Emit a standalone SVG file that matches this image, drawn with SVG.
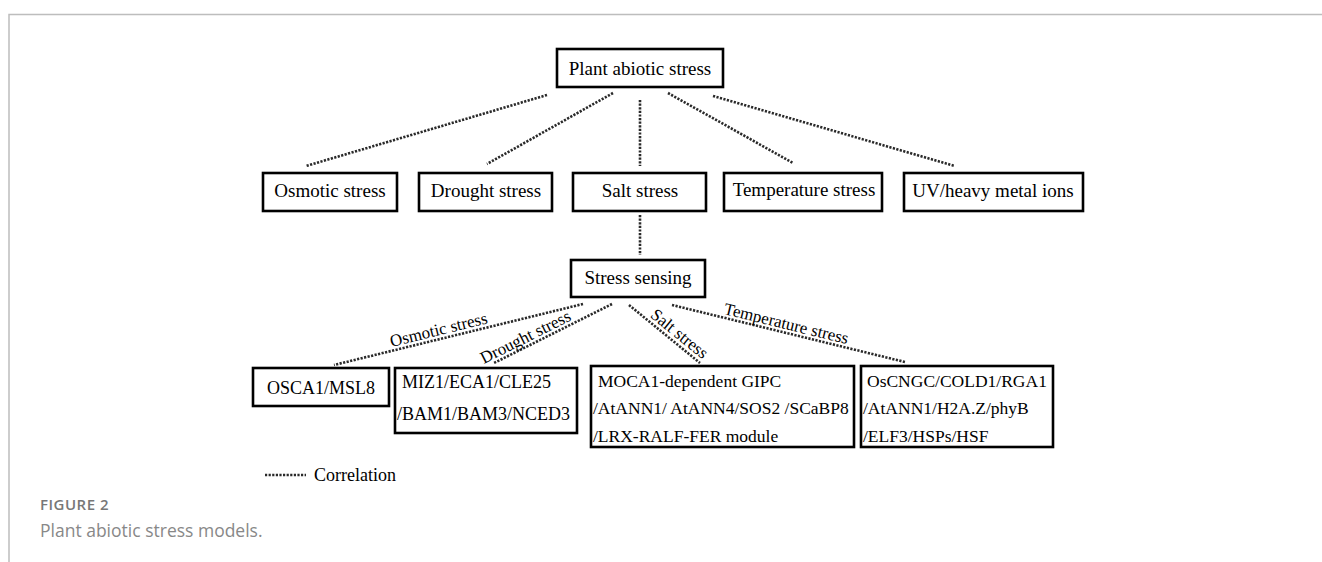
<svg xmlns="http://www.w3.org/2000/svg" width="1322" height="562" viewBox="0 0 1322 562">
<style>
.box{fill:#fff;stroke:#000;stroke-width:2.6}
.t{font-family:"Liberation Serif","Times New Roman",serif;font-size:19px;fill:#000}
.tc{text-anchor:middle}
.s{font-size:18px}
.s2{font-size:17.5px}
.lbl{font-family:"Liberation Serif","Times New Roman",serif;font-size:17px;fill:#000;text-anchor:middle}
.dot{stroke:#2a2a2a;stroke-width:2.6;stroke-dasharray:2.2 1.4;fill:none}
.frame{stroke:#bdbdbd;stroke-width:1.5;fill:none}
.cap1{font-family:"Open Sans","Lato",sans-serif;font-size:15px;font-weight:600;letter-spacing:0.5px;fill:#777}
.cap2{font-family:"Open Sans","Lato",sans-serif;font-size:17.5px;fill:#888}
</style>
<rect width="1322" height="562" fill="#fff"/>
<path class="frame" d="M9,562 V14.5 H1322"/>
<g id="connectors">
<line class="dot" x1="547" y1="95" x2="306" y2="166"/>
<line class="dot" x1="613" y1="93" x2="487" y2="164"/>
<line class="dot" x1="640" y1="100" x2="640" y2="166"/>
<line class="dot" x1="668" y1="93" x2="793" y2="163"/>
<line class="dot" x1="713" y1="96" x2="955" y2="166"/>
<line class="dot" x1="640" y1="215" x2="640" y2="255"/>
<line class="dot" x1="583" y1="304" x2="334" y2="365"/>
<line class="dot" x1="612" y1="304" x2="494" y2="363"/>
<line class="dot" x1="629" y1="305" x2="700" y2="363"/>
<line class="dot" x1="672" y1="305" x2="905" y2="362"/>
<text class="lbl" x="440" y="335" transform="rotate(-13.8 440 335)">Osmotic stress</text>
<text class="lbl" x="528" y="342" transform="rotate(-26.6 528 342)">Drought stress</text>
<text class="lbl" x="676" y="338" transform="rotate(39 676 338)">Salt stress</text>
<text class="lbl" x="785" y="329" transform="rotate(13.7 785 329)">Temperature stress</text>
</g>
<g id="plant-abiotic-stress"><rect class="box" x="557" y="49" width="166" height="38"/><text class="t tc" x="640" y="75">Plant abiotic stress</text></g>
<g id="osmotic-stress"><rect class="box" x="263" y="173" width="134" height="38"/><text class="t tc" x="330" y="197">Osmotic stress</text></g>
<g id="drought-stress"><rect class="box" x="419" y="173" width="133" height="38"/><text class="t tc" x="486" y="197">Drought stress</text></g>
<g id="salt-stress"><rect class="box" x="573" y="173" width="133" height="38"/><text class="t tc" x="640" y="197">Salt stress</text></g>
<g id="temperature-stress"><rect class="box" x="724" y="173" width="158" height="38"/><text class="t tc" x="804" y="196">Temperature stress</text></g>
<g id="uv-heavy-metal"><rect class="box" x="904" y="173" width="179" height="38"/><text class="t tc" x="993" y="197">UV/heavy metal ions</text></g>
<g id="stress-sensing"><rect class="box" x="571" y="260" width="134" height="37"/><text class="t tc" x="638" y="284">Stress sensing</text></g>
<g id="osca1"><rect class="box" x="253" y="368" width="136" height="38"/><text class="t s tc" x="321" y="394">OSCA1/MSL8</text></g>
<g id="miz1"><rect class="box" x="395" y="368" width="182" height="65"/><text class="t s" x="402" y="388">MIZ1/ECA1/CLE25</text><text class="t s" x="397" y="420">/BAM1/BAM3/NCED3</text></g>
<g id="moca1"><rect class="box" x="591" y="366" width="263" height="81"/><text class="t s2" x="598" y="387">MOCA1-dependent GIPC</text><text class="t s2" x="593" y="414">/AtANN1/ AtANN4/SOS2 /SCaBP8</text><text class="t s2" x="593" y="442">/LRX-RALF-FER module</text></g>
<g id="oscngc"><rect class="box" x="861" y="366" width="192" height="81"/><text class="t s2" x="867" y="387">OsCNGC/COLD1/RGA1</text><text class="t s2" x="863" y="414">/AtANN1/H2A.Z/phyB</text><text class="t s2" x="863" y="442">/ELF3/HSPs/HSF</text></g>
<g id="legend"><line class="dot" x1="265" y1="475" x2="306" y2="475"/><text class="t s" x="314" y="481">Correlation</text></g>
<text class="cap1" x="40" y="510">FIGURE 2</text>
<text class="cap2" x="40" y="537">Plant abiotic stress models.</text>
</svg>
